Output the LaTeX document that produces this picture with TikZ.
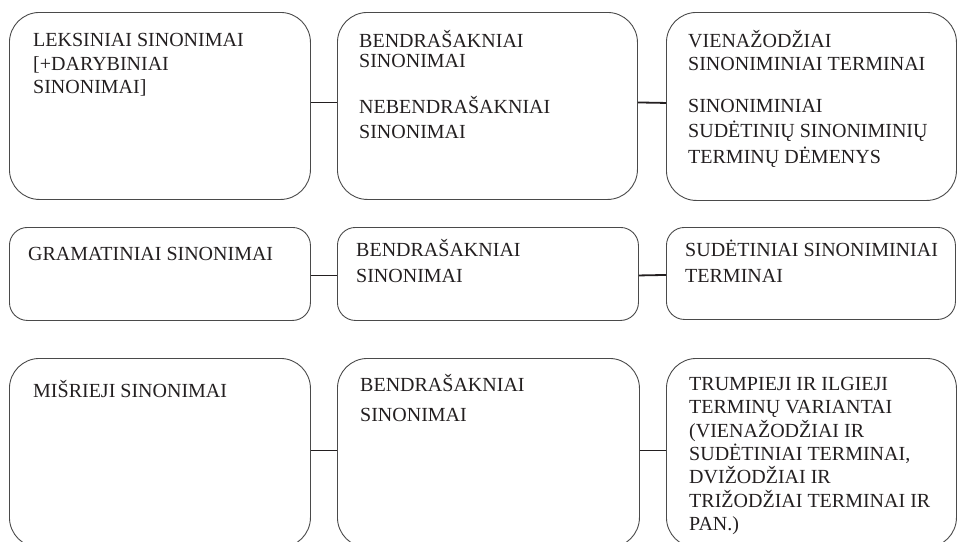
\documentclass[tikz,border=0pt]{standalone}
\usepackage{fontspec}
\setmainfont{Liberation Serif}
\definecolor{ink}{HTML}{231F20}
\definecolor{edge}{HTML}{4A4A4A}
\begin{document}
\begin{tikzpicture}[x=1pt,y=-1pt,
  box/.style={draw=edge, line width=0.9pt, rounded corners=#1, inner sep=0pt,
    anchor=north west, minimum height=0pt},
  box/.default=30pt,
  txt/.style={anchor=base west, inner sep=0pt, text=ink,
    font=\fontsize{20}{23}\selectfont},
  link/.style={draw=ink, line width=1.8pt}]
\useasboundingbox (0,0) rectangle (957,541);
\clip (0,0) rectangle (957,541);

% first row
\node[box, minimum width=301pt, minimum height=187pt] (A) at (9,12) {};
\node[box, minimum width=300pt, minimum height=187pt] (B) at (337,12) {};
\node[box, minimum width=290pt, minimum height=188pt] (C) at (666,12) {};
\node[txt] (a1) at (33,46) {LEKSINIAI SINONIMAI};
\node[txt] (a2) at (33,70) {[+DARYBINIAI};
\node[txt] (a3) at (33,93) {SINONIMAI]};
\node[txt] (b1) at (359,47) {BENDRAŠAKNIAI};
\node[txt] (b2) at (359,67) {SINONIMAI};
\node[txt] (b3) at (359,113) {NEBENDRAŠAKNIAI};
\node[txt] (b4) at (359,138) {SINONIMAI};
\node[txt] (c1) at (688,47) {VIENAŽODŽIAI};
\node[txt] (c2) at (688,70) {SINONIMINIAI TERMINAI};
\node[txt] (c3) at (688,112) {SINONIMINIAI};
\node[txt] (c4) at (688,137) {SUDĖTINIŲ SINONIMINIŲ};
\node[txt] (c5) at (688,163) {TERMINŲ DĖMENYS};
\draw[link] ([yshift=3.5pt]A.east) -- ([yshift=3.5pt]B.west);
\draw[link] ([yshift=3.5pt]B.east) -- ([yshift=3.5pt]C.west);

% second row
\node[box=18pt, minimum width=301pt, minimum height=93pt] (D) at (9,227) {};
\node[box=18pt, minimum width=301pt, minimum height=93pt] (E) at (337,227) {};
\node[box=18pt, minimum width=289pt, minimum height=92pt] (F) at (666,227) {};
\node[txt] (d1) at (28,260) {GRAMATINIAI SINONIMAI};
\node[txt] (e1) at (356,256) {BENDRAŠAKNIAI};
\node[txt] (e2) at (356,282) {SINONIMAI};
\node[txt] (f1) at (685,256) {SUDĖTINIAI SINONIMINIAI};
\node[txt] (f2) at (685,282) {TERMINAI};
\draw[link] ([yshift=-1.5pt]D.east) -- ([yshift=-1.5pt]E.west);
\draw[link] ([yshift=-1.5pt]E.east) -- ([yshift=-1.5pt]F.west);

% third row (runs past the lower edge)
\node[box, minimum width=301pt, minimum height=189pt] (G) at (9,358) {};
\node[box, minimum width=302pt, minimum height=189pt] (H) at (337,358) {};
\node[box, minimum width=290pt, minimum height=189pt] (I) at (666,358) {};
\node[txt] (g1) at (33,397) {MIŠRIEJI SINONIMAI};
\node[txt] (h1) at (360,391) {BENDRAŠAKNIAI};
\node[txt] (h2) at (360,421) {SINONIMAI};
\node[txt] (i1) at (689,390) {TRUMPIEJI IR ILGIEJI};
\node[txt] (i2) at (689,413) {TERMINŲ VARIANTAI};
\node[txt] (i3) at (689,437) {(VIENAŽODŽIAI IR};
\node[txt] (i4) at (689,460) {SUDĖTINIAI TERMINAI,};
\node[txt] (i5) at (689,483) {DVIŽODŽIAI IR};
\node[txt] (i6) at (689,507) {TRIŽODŽIAI TERMINAI IR};
\node[txt] (i7) at (689,530) {PAN.)};
\draw[link] ([yshift=2.5pt]G.east) -- ([yshift=2.5pt]H.west);
\draw[link] ([yshift=2.5pt]H.east) -- ([yshift=2.5pt]I.west);
\end{tikzpicture}
\end{document}
